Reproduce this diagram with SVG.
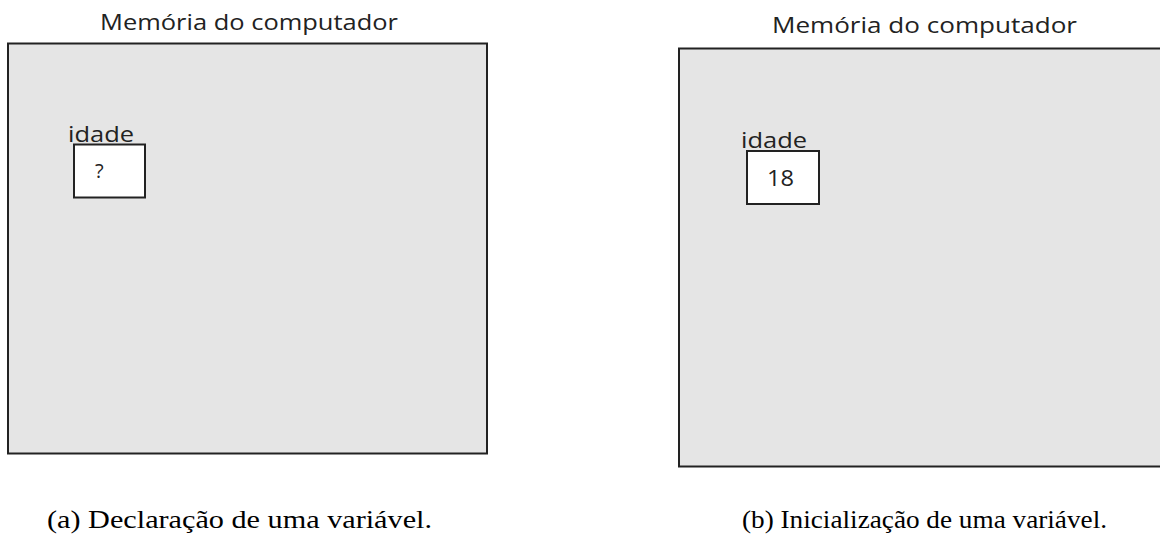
<svg xmlns="http://www.w3.org/2000/svg" width="1160" height="541" viewBox="0 0 1160 541">
<style>
.mem{fill:#e5e5e5;stroke:#222;stroke-width:2}
.cell{fill:#fff;stroke:#222;stroke-width:2}
.t{font-family:"Open Sans","Noto Sans",sans-serif;fill:#222}
.cap{font-family:"Liberation Serif","DejaVu Serif",serif;font-size:25px;fill:#000}
</style>
<rect width="1160" height="541" fill="#fff"/>
<g id="memA">
<text class="t" x="100" y="30" font-size="22" textLength="298" lengthAdjust="spacingAndGlyphs">Memória do computador</text>
<rect class="mem" x="8" y="43.5" width="479" height="410"/>
</g>
<g id="cellA">
<text class="t" x="68" y="142" font-size="21" textLength="66" lengthAdjust="spacingAndGlyphs">idade</text>
<rect class="cell" x="74" y="144.5" width="71" height="53"/>
<text class="t" x="95" y="178" font-size="20">?</text>
</g>
<g id="memB">
<text class="t" x="772" y="33" font-size="22" textLength="305" lengthAdjust="spacingAndGlyphs">Memória do computador</text>
<rect class="mem" x="679" y="48.5" width="500" height="418"/>
</g>
<g id="cellB">
<text class="t" x="741" y="148" font-size="21" textLength="66" lengthAdjust="spacingAndGlyphs">idade</text>
<rect class="cell" x="747" y="151" width="72" height="53"/>
<text class="t" x="767" y="186" font-size="21" textLength="27" lengthAdjust="spacingAndGlyphs">18</text>
</g>
<g id="connectors"></g>
<text class="cap" x="47" y="528" textLength="385" lengthAdjust="spacingAndGlyphs">(a) Declaração de uma variável.</text>
<text class="cap" x="742" y="528" textLength="365" lengthAdjust="spacingAndGlyphs">(b) Inicialização de uma variável.</text>
</svg>
